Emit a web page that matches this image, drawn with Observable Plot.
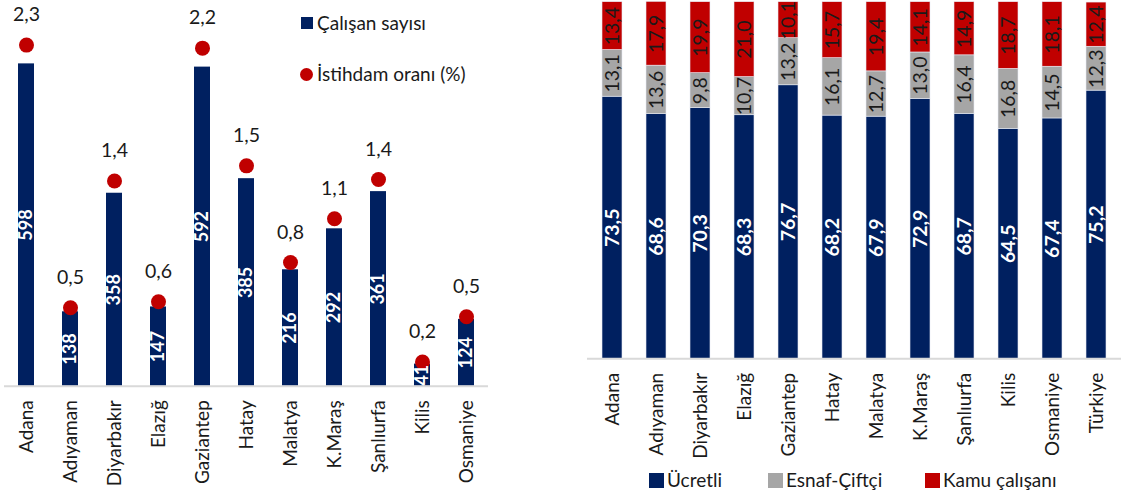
<!DOCTYPE html>
<html>
<head>
<meta charset="utf-8">
<script src="https://cdn.jsdelivr.net/npm/d3@7"></script>
<script src="https://cdn.jsdelivr.net/npm/@observablehq/plot@0.6"></script>
<style>
  html, body { margin: 0; padding: 0; background: #fff; }
  #wrap { position: relative; width: 1123px; height: 495px; overflow: hidden; font-family: Lato, "Noto Sans", sans-serif; color: #1a1a1a; }
  .panel { position: absolute; top: 0; }
  .lg { position: absolute; font-size: 19px; line-height: 20px; white-space: nowrap; display: flex; align-items: center; }
  .sw { display: inline-block; margin-right: 4px; }
</style>
</head>
<body>
<div id="wrap">
  <div class="panel" id="left" style="left:0"></div>
  <div class="panel" id="right" style="left:558px"></div>
</div>
<script>
// ---- Left chart data ----
const cities = ["Adana","Adıyaman","Diyarbakır","Elazığ","Gaziantep","Hatay","Malatya","K.Maraş","Şanlıurfa","Kilis","Osmaniye"];
const workers = [598,138,358,147,592,385,216,292,361,41,124];        // Çalışan sayısı
const empRate = [2.26,0.52,1.36,0.56,2.24,1.46,0.82,1.11,1.37,0.16,0.46]; // İstihdam oranı (%)

// ---- Right chart data ----
const cities2 = ["Adana","Adıyaman","Diyarbakır","Elazığ","Gaziantep","Hatay","Malatya","K.Maraş","Şanlıurfa","Kilis","Osmaniye","Türkiye"];
const types = ["Ücretli","Esnaf-Çiftçi","Kamu çalışanı"];
const ucretli = [73.5,68.6,70.3,68.3,76.7,68.2,67.9,72.9,68.7,64.5,67.4,75.2];
const esnaf   = [13.1,13.6,9.8,10.7,13.2,16.1,12.7,13.0,16.4,16.8,14.5,12.3];
const kamu    = [13.4,17.9,19.9,21.0,10.1,15.7,19.4,14.1,14.9,18.7,18.1,12.4];

const NAVY = "#002060", RED = "#c00000", GRAY = "#a6a6a6";
const FONT = "Lato, 'Noto Sans', sans-serif";
const fmt = v => v.toFixed(1).replace(".", ",");

// Secondary axis: count axis max and rate axis max
const countMax = 700, rateMax = 2.5;
const ratio = countMax / rateMax;

const left = cities.map((c, i) => ({city: c, count: workers[i], rate: empRate[i]}));

const p1 = Plot.plot({
  width: 560, height: 495,
  marginLeft: 4, marginRight: 72, marginTop: 8.4, marginBottom: 109.3,
  style: {fontFamily: FONT, color: "#1a1a1a", background: "transparent"},
  x: {domain: cities, paddingInner: 0.636, paddingOuter: 0.318},
  y: {domain: [0, countMax], axis: null},
  marks: [
    Plot.barY(left, {x: "city", y: "count", fill: NAVY}),
    Plot.ruleY([0], {stroke: "#d9d9d9", strokeWidth: 2}),
    Plot.dot(left, {x: "city", y: d => d.rate * ratio, r: 7.5, fill: RED, stroke: "none"}),
    Plot.text(left, {x: "city", y: d => d.count / 2, text: d => String(d.count), rotate: -90, fill: "white", fontWeight: "bold", fontSize: 18}),
    Plot.text(left, {x: "city", y: d => d.rate * ratio, dy: -30, text: d => fmt(d.rate), fontSize: 19.5, fill: "#1a1a1a"}),
    Plot.axisX({tickRotate: -90, tickSize: 0, tickPadding: 14, fontSize: 19, label: null, fill: "#1a1a1a"})
  ]
});
document.getElementById("left").appendChild(p1);

const right = [];
cities2.forEach((c, i) => {
  right.push({city: c, type: types[0], value: ucretli[i]});
  right.push({city: c, type: types[1], value: esnaf[i]});
  right.push({city: c, type: types[2], value: kamu[i]});
});

const p2 = Plot.plot({
  width: 565, height: 495,
  marginLeft: 29, marginRight: 2, marginTop: 1.7, marginBottom: 136.7,
  style: {fontFamily: FONT, color: "#1a1a1a", background: "transparent"},
  x: {domain: cities2, paddingInner: 0.55, paddingOuter: 0.275},
  y: {domain: [0, 100], axis: null},
  color: {domain: types, range: [NAVY, GRAY, RED]},
  marks: [
    Plot.barY(right, {x: "city", y: "value", fill: "type", z: "type", stroke: "#e8ecf4", strokeWidth: 0.6}),
    Plot.ruleY([0], {stroke: "#d9d9d9", strokeWidth: 2}),
    Plot.text(right, Plot.stackY({x: "city", y: "value", z: "type",
      text: d => d.type === "Ücretli" ? fmt(d.value) : null, rotate: -90,
      fill: "white", fontWeight: "bold", fontSize: 19.5})),
    Plot.text(right, Plot.stackY({x: "city", y: "value", z: "type",
      text: d => d.type !== "Ücretli" ? fmt(d.value) : null, rotate: -90,
      fill: "#1a1a1a", fontSize: 19.5})),
    Plot.axisX({tickRotate: -90, tickSize: 0, tickPadding: 14, fontSize: 19, label: null, fill: "#1a1a1a"})
  ]
});
document.getElementById("right").appendChild(p2);

// Legends (HTML)
const wrap = document.getElementById("wrap");
function legend(x, y, swatchHtml, label) {
  const d = document.createElement("div");
  d.className = "lg";
  d.style.left = x + "px";
  d.style.top = (y - 10) + "px";
  d.innerHTML = swatchHtml + "<span>" + label + "</span>";
  wrap.appendChild(d);
}
legend(301, 23, `<span class="sw" style="width:12px;height:12px;background:${NAVY}"></span>`, "Çalışan sayısı");
legend(300, 74, `<span class="sw" style="width:13px;height:13px;border-radius:50%;background:${RED}"></span>`, "İstihdam oranı (%)");
const legColors = [NAVY, GRAY, RED];
const legX = [649, 768, 925];
types.forEach((t, i) => legend(legX[i], 480, `<span class="sw" style="width:15px;height:15px;margin-right:3px;background:${legColors[i]}"></span>`, t));
</script>
</body>
</html>
